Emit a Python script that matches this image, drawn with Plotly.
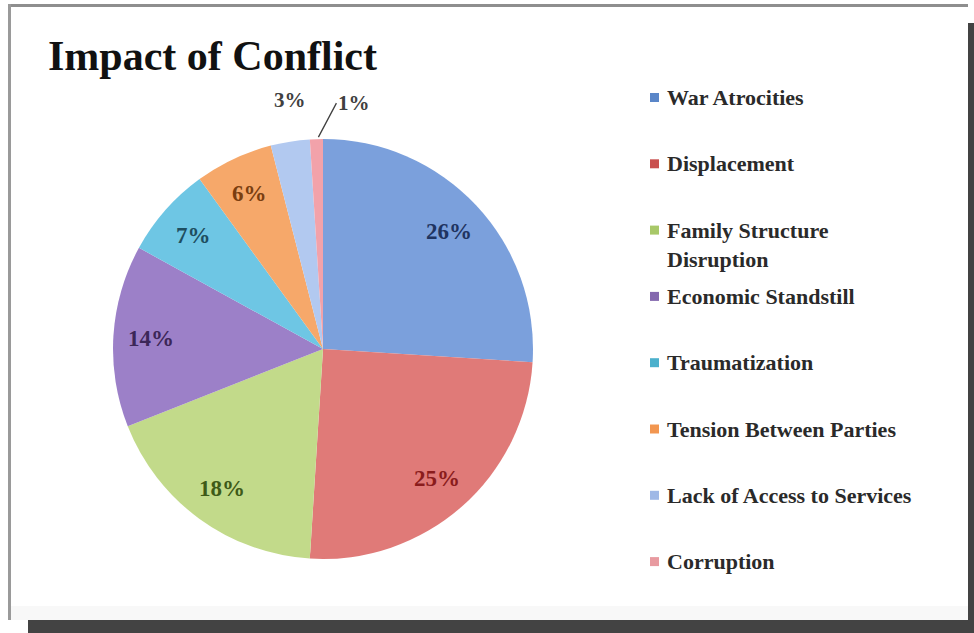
import math
import plotly.graph_objects as go

# Chart data
categories = [
    "War Atrocities",
    "Displacement",
    "Family Structure Disruption",
    "Economic Standstill",
    "Traumatization",
    "Tension Between Parties",
    "Lack of Access to Services",
    "Corruption",
]
legend_text = [
    "War Atrocities",
    "Displacement",
    "Family Structure<br>Disruption",
    "Economic Standstill",
    "Traumatization",
    "Tension Between Parties",
    "Lack of Access to Services",
    "Corruption",
]
shares = [26, 25, 18, 14, 7, 6, 3, 1]

slice_colors = ["#7BA0DC", "#E07A78", "#C2DA8A", "#9C80C8",
                "#6EC6E4", "#F6A86A", "#B2C9F0", "#F2A2AA"]
swatch_colors = ["#5A86C8", "#C9504E", "#A8C868", "#8468AE",
                 "#4BB0CC", "#F29650", "#9FB8E6", "#E89AA0"]
label_colors = ["#1F3461", "#8A1C1C", "#3E5A18", "#3C2758",
                "#1E4E60", "#7A3E10", "#404040", "#404040"]

W, H = 974, 633
FONT = "Liberation Serif"


def fx(px):
    return px / W


def fy(py):
    return 1 - py / H


# Pie geometry (pixels)
CX, CY, R = 323, 349, 210

fig = go.Figure()
fig.add_trace(go.Pie(
    labels=categories,
    values=shares,
    sort=False,
    direction="clockwise",
    rotation=0,
    marker=dict(colors=slice_colors, line=dict(width=0)),
    textinfo="none",
    showlegend=False,
    domain=dict(x=[fx(CX - R), fx(CX + R)], y=[fy(CY + R), fy(CY - R)]),
))

annotations = []
shapes = []

# Percentage labels placed along each slice bisector
total = sum(shares)
cum = 0
for i, v in enumerate(shares):
    mid = (cum + v / 2) / total
    cum += v
    th = 2 * math.pi * mid
    txt = f"<b>{round(100 * v / total)}%</b>"
    if v >= 5:
        r = 0.82 * R
        annotations.append(dict(
            x=fx(CX + r * math.sin(th)), y=fy(CY - r * math.cos(th)),
            xref="paper", yref="paper", text=txt, showarrow=False,
            xanchor="center", yanchor="middle",
            font=dict(family=FONT, size=23, color=label_colors[i]),
        ))
    elif v >= 2:
        r = 1.2 * R
        annotations.append(dict(
            x=fx(CX + r * math.sin(th) + 6), y=fy(CY - r * math.cos(th)),
            xref="paper", yref="paper", text=txt, showarrow=False,
            xanchor="center", yanchor="middle",
            font=dict(family=FONT, size=21, color=label_colors[i]),
        ))
    else:
        annotations.append(dict(
            x=fx(CX + R * math.sin(th) + 2), y=fy(CY - R * math.cos(th) - 2),
            xref="paper", yref="paper", text=txt, showarrow=True,
            arrowhead=0, arrowwidth=1.3, arrowcolor="#404040",
            ax=18, ay=-34, xanchor="left", yanchor="middle",
            font=dict(family=FONT, size=21, color=label_colors[i]),
        ))

# Legend (right side)
LEG_X, LEG_Y0, LEG_STEP, LEG_FS = 665, 98, 66.3, 22
for i, name in enumerate(legend_text):
    yc = LEG_Y0 + i * LEG_STEP
    annotations.append(dict(
        x=fx(LEG_X), y=fy(yc - LEG_FS * 0.68), xref="paper", yref="paper",
        text=f"<b>{name}</b>", showarrow=False, xanchor="left", yanchor="top",
        align="left", font=dict(family=FONT, size=LEG_FS, color="#2A2A2A"),
    ))
    shapes.append(dict(
        type="rect", xref="paper", yref="paper",
        x0=fx(650), x1=fx(659), y0=fy(yc + 4), y1=fy(yc - 5),
        fillcolor=swatch_colors[i], line=dict(width=0),
    ))

# Title
annotations.append(dict(
    x=fx(46), y=fy(56), xref="paper", yref="paper",
    text="<b>Impact of Conflict</b>", showarrow=False,
    xanchor="left", yanchor="middle",
    font=dict(family=FONT, size=42, color="#111111"),
))

# Frame around the chart area with a dark drop shadow
frame = [
    (10, 606, 968, 620, "#F8F8F8"),   # soft band along the bottom edge
    (8, 4, 968, 7, "#8E8E8E"),        # top edge
    (8, 4, 11, 620, "#9A9A9A"),       # left edge
    (968, 23, 974, 633, "#434343"),   # right shadow
    (28, 620, 974, 633, "#434343"),   # bottom shadow
]
for x0, y0, x1, y1, c in frame:
    shapes.append(dict(
        type="rect", xref="paper", yref="paper", layer="below",
        x0=fx(x0), x1=fx(x1), y0=fy(y1), y1=fy(y0),
        fillcolor=c, line=dict(width=0),
    ))

fig.update_layout(
    width=W, height=H,
    margin=dict(l=0, r=0, t=0, b=0),
    paper_bgcolor="white",
    plot_bgcolor="white",
    annotations=annotations,
    shapes=shapes,
)

fig.write_html("out.html")
